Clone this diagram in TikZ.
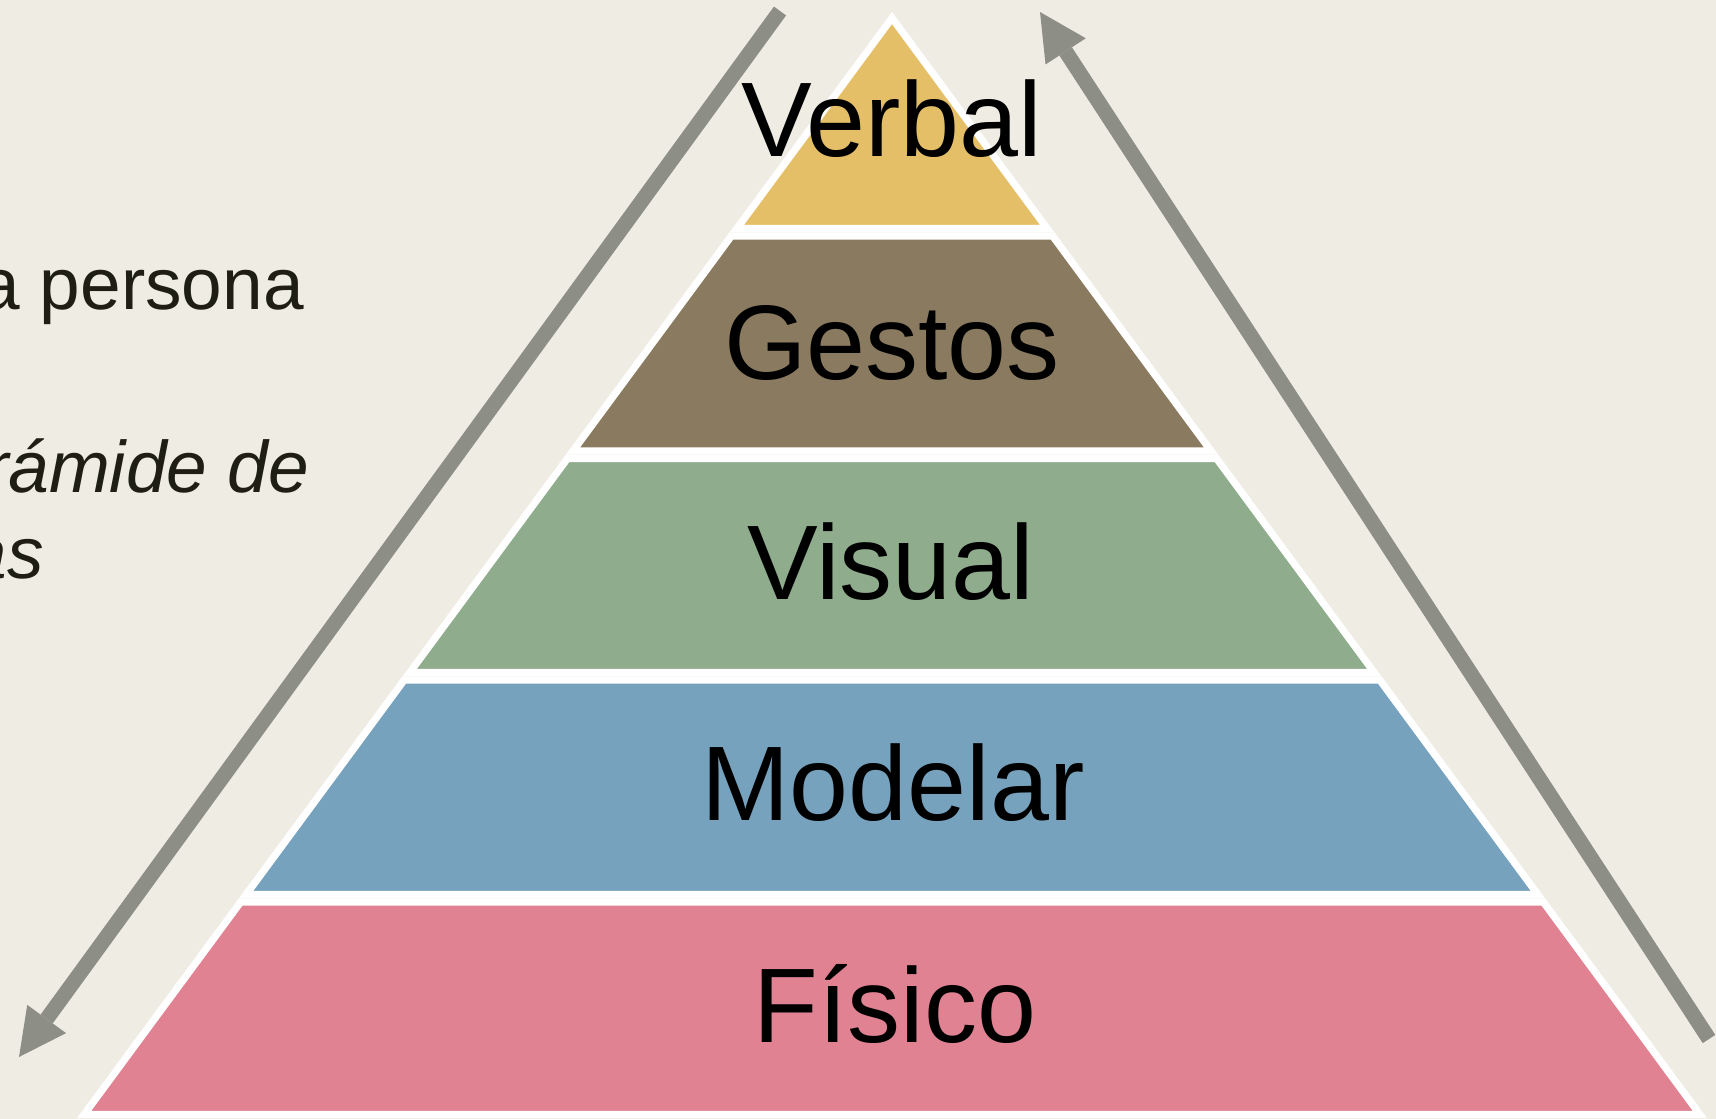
\documentclass[tikz,border=0pt]{standalone}
\usepackage{fontspec}
\setmainfont{Liberation Sans}
\usetikzlibrary{arrows.meta}
\definecolor{bgc}{RGB}{239,236,228}
\definecolor{arrowgray}{RGB}{141,142,134}
\definecolor{cyellow}{RGB}{229,191,104}
\definecolor{cbrown}{RGB}{138,122,95}
\definecolor{cgreen}{RGB}{143,172,141}
\definecolor{cblue}{RGB}{118,162,189}
\definecolor{cpink}{RGB}{224,130,146}
\definecolor{sidetext}{RGB}{30,30,20}
\newcommand\pyrlayer[3]{%
  \filldraw[layerbox, fill=#3] ({892-0.7368*(#1-18)},#1) -- ({892+0.7368*(#1-18)},#1)
    -- ({892+0.7368*(#2-18)},#2) -- ({892-0.7368*(#2-18)},#2) -- cycle;}
\begin{document}
\begin{tikzpicture}[x=1pt,y=-1pt,
  layerbox/.style={draw=white, line width=7.2pt, line join=miter},
  biglabel/.style={anchor=base, inner sep=0pt, text=black, font=\fontsize{106}{127}\selectfont},
  sidelabel/.style={anchor=base east, inner sep=0pt, text=sidetext, font=\fontsize{73}{86}\selectfont},
  bigarrow/.style={draw=arrowgray, line width=15pt,
    -{Triangle[length=47pt,width=48pt,line width=0pt]}}]
\useasboundingbox (0,0) rectangle (1716,1119);
\fill[bgc] (0,0) rectangle (1716,1119);
\begin{scope}
\clip (0,0) rectangle (1716,1119);
% side text (clipped at the left edge)
\node[sidelabel] (t1) at (304,309) {a persona};
\node[sidelabel] (t2) at (309,492) {\itshape rámide de};
\node[sidelabel] (t3) at (44,578) {\itshape as};
% pyramid
\filldraw[layerbox, fill=cyellow] (892,18) -- ({892+0.7368*(228.5-18)},228.5) -- ({892-0.7368*(228.5-18)},228.5) -- cycle;
\pyrlayer{236}{451}{cbrown}
\pyrlayer{458.5}{672.5}{cgreen}
\pyrlayer{680}{894.5}{cblue}
\pyrlayer{902}{1114.5}{cpink}
% labels
\node[biglabel] (verbal) at (892,156.5) {Verbal};
\node[biglabel] (gestos) at (892,379) {Gestos};
\node[biglabel] (visual) at (891,599) {Visual};
\node[biglabel] (modelar) at (893,820) {Modelar};
\node[biglabel] (fisico) at (895,1042) {Físico};
% arrows
\coordinate (la1) at (780,11);
\coordinate (la2) at (19,1057);
\coordinate (ra1) at (1709,1039);
\coordinate (ra2) at (1040,12);
\draw[bigarrow] (la1) -- (la2);
\draw[bigarrow] (ra1) -- (ra2);
\end{scope}
\end{tikzpicture}
\end{document}
